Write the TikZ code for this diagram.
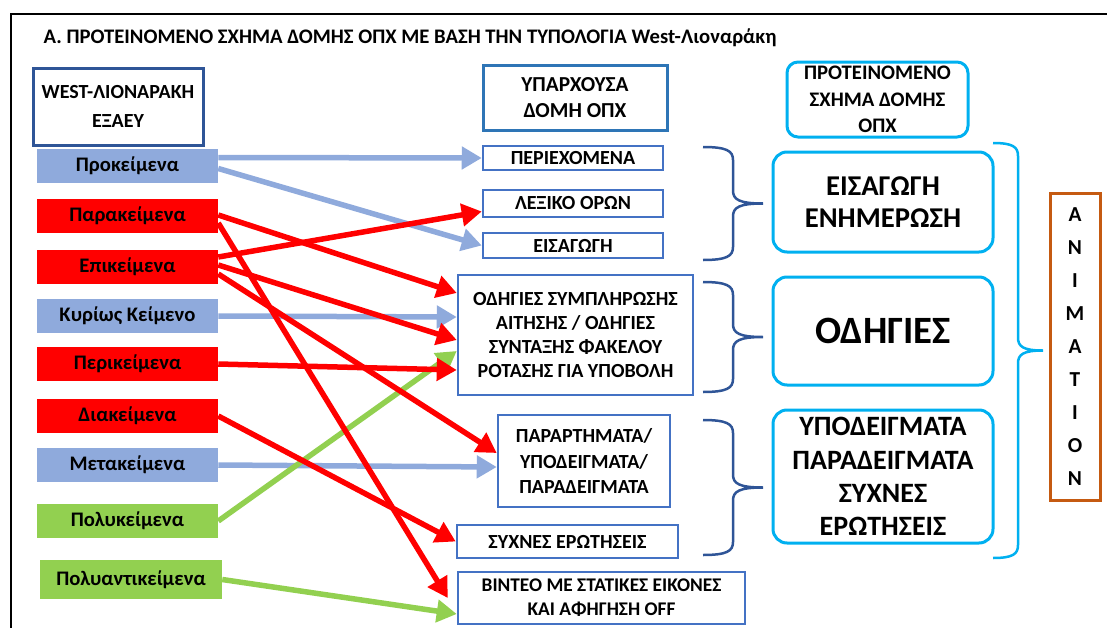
\documentclass[tikz,border=0pt]{standalone}
\usepackage{fontspec}
\setmainfont{Carlito}
\usepackage{tikz}
\usetikzlibrary{arrows.meta,positioning,calc}
\definecolor{OPDark}{HTML}{2F5597}
\definecolor{OPMid}{HTML}{4472C4}
\definecolor{OPHead}{HTML}{2E75B6}
\definecolor{OPCyan}{HTML}{00B0F0}
\definecolor{OPOrange}{HTML}{C55A11}
\definecolor{OPLight}{HTML}{8FAADC}
\definecolor{OPRed}{HTML}{FF0000}
\definecolor{OPGreen}{HTML}{92D050}
\newlength\pxu
\setlength\pxu{0.75pt}
% curly brace opening to the left: x, top, bottom, half width, colour
\newcommand{\opxbrace}[5]{%
  \draw[line width=2.5\pxu, draw=#5]
    (#1,#2) .. controls ({#1+0.8*#4},#2) and ({#1+#4},{#2+4}) .. ({#1+#4},{#2+13})
    -- ({#1+#4},{(#2+#3)/2-13}) .. controls ({#1+#4},{(#2+#3)/2-4}) and ({#1+1.2*#4},{(#2+#3)/2}) .. ({#1+2*#4},{(#2+#3)/2})
    .. controls ({#1+1.2*#4},{(#2+#3)/2}) and ({#1+#4},{(#2+#3)/2+4}) .. ({#1+#4},{(#2+#3)/2+13})
    -- ({#1+#4},{#3-13}) .. controls ({#1+#4},{#3-4}) and ({#1+0.8*#4},#3) .. (#1,#3);}

\begin{document}
\begin{tikzpicture}[
    x=0.75pt,y=-0.75pt,
    lbl/.style={minimum width=181\pxu, minimum height=34\pxu, inner sep=0pt, font=\fontsize{15.5}{18}\selectfont\bfseries},
    kblue/.style={lbl, fill=OPLight},
    kred/.style={lbl, fill=OPRed},
    kgreen/.style={lbl, fill=OPGreen},
    part/.style={draw=OPMid, line width=2.5\pxu, inner sep=0pt, align=center, font=\fontsize{15}{18}\selectfont\bfseries},
    head/.style={part, line width=3\pxu},
    plan/.style={draw=OPCyan, line width=3\pxu, rounded corners=14\pxu, inner sep=0pt, align=center, minimum width=220\pxu},
    link/.style={line width=5.5\pxu, -{Triangle[length=15pt,width=16.5pt]}},
    bluearr/.style={link, draw=OPLight},
    redarr/.style={link, draw=OPRed},
    greenarr/.style={link, draw=OPGreen}
  ]
    \useasboundingbox (0,0) rectangle (1107,628);
    \draw[line width=2\pxu] (11,640) -- (11,14) -- (1115,14);

    \node[anchor=west, font=\fontsize{15.5}{18}\selectfont\bfseries] (title) at (39,38)
      {Α. ΠΡΟΤΕΙΝΟΜΕΝΟ ΣΧΗΜΑ ΔΟΜΗΣ ΟΠΧ ΜΕ ΒΑΣΗ ΤΗΝ ΤΥΠΟΛΟΓΙΑ West-Λιοναράκη};

    % left column
    \node[head, draw=OPDark, minimum width=170\pxu, minimum height=77\pxu, font=\fontsize{15}{21.5}\selectfont\bfseries] (wl) at (118,106.5) {WEST-ΛΙΟΝΑΡΑΚΗ\\ΕΞΑΕΥ};
    \foreach \n/\y/\s/\t in {prok/165.5/kblue/Προκείμενα, para/216/kred/Παρακείμενα, epik/267/kred/Επικείμενα,
        kyr/316/kblue/Κυρίως Κείμενο, peri/364/kred/Περικείμενα, dia/416/kred/Διακείμενα,
        meta/465/kblue/Μετακείμενα, polyk/521/kgreen/Πολυκείμενα}
      {\node[\s] (\n) at (127.5,\y) {\t};}
    \node[kgreen, minimum width=182\pxu, minimum height=39\pxu] (polyant) at (131,579.5) {Πολυαντικείμενα};

    % middle column
    \node[head, draw=OPHead, minimum width=184\pxu, minimum height=65\pxu, font=\fontsize{16}{20}\selectfont\bfseries] (yparx) at (575,97.5) {ΥΠΑΡΧΟΥΣΑ\\ΔΟΜΗ ΟΠΧ};
    \node[part, minimum width=180\pxu, minimum height=24\pxu] (perie) at (573,158) {ΠΕΡΙΕΧΟΜΕΝΑ};
    \node[part, minimum width=180\pxu, minimum height=27\pxu] (lex) at (573,203.5) {ΛΕΞΙΚΟ ΟΡΩΝ};
    \node[part, minimum width=180\pxu, minimum height=25\pxu] (eis) at (573,245.5) {ΕΙΣΑΓΩΓΗ};
    \node[part, minimum width=235\pxu, minimum height=120\pxu] (odg) at (575.5,335)
      {ΟΔΗΓΙΕΣ ΣΥΜΠΛΗΡΩΣΗΣ\\ΑΙΤΗΣΗΣ / ΟΔΗΓΙΕΣ\\ΣΥΝΤΑΞΗΣ ΦΑΚΕΛΟΥ\\ΡΟΤΑΣΗΣ ΓΙΑ ΥΠΟΒΟΛΗ};
    \node[part, minimum width=172\pxu, minimum height=92\pxu, font=\fontsize{15}{19}\selectfont\bfseries] (par) at (584,461)
      {ΠΑΡΑΡΤΗΜΑΤΑ/\\ΥΠΟΔΕΙΓΜΑΤΑ/\\ΠΑΡΑΔΕΙΓΜΑΤΑ};
    \node[part, minimum width=221\pxu, minimum height=33\pxu] (sy) at (567.5,541.5) {ΣΥΧΝΕΣ ΕΡΩΤΗΣΕΙΣ};
    \node[part, minimum width=287\pxu, minimum height=52\pxu, font=\fontsize{14.5}{18}\selectfont\bfseries] (vid) at (601.5,598)
      {ΒΙΝΤΕΟ ΜΕ ΣΤΑΤΙΚΕΣ ΕΙΚΟΝΕΣ\\ΚΑΙ ΑΦΗΓΗΣΗ OFF};

    % right column
    \node[plan, rounded corners=11\pxu, minimum width=181\pxu, minimum height=75\pxu, font=\fontsize{15.5}{20}\selectfont\bfseries] (prop) at (877.5,99.5)
      {ΠΡΟΤΕΙΝΟΜΕΝΟ\\ΣΧΗΜΑ ΔΟΜΗΣ\\ΟΠΧ};
    \node[plan, minimum height=100\pxu, font=\fontsize{21.5}{23.5}\selectfont\bfseries] (intro) at (883,202) {ΕΙΣΑΓΩΓΗ\\ΕΝΗΜΕΡΩΣΗ};
    \node[plan, minimum height=108\pxu, font=\fontsize{29}{32}\selectfont\bfseries] (guide) at (883,331) {ΟΔΗΓΙΕΣ};
    \node[plan, minimum height=133\pxu, font=\fontsize{21}{25}\selectfont\bfseries] (samples) at (883,476.5)
      {ΥΠΟΔΕΙΓΜΑΤΑ\\ΠΑΡΑΔΕΙΓΜΑΤΑ\\ΣΥΧΝΕΣ\\ΕΡΩΤΗΣΕΙΣ};
    \node[draw=OPOrange, line width=3\pxu, minimum width=50\pxu, minimum height=307\pxu, inner sep=0pt, align=center,
      font=\fontsize{16}{24.75}\selectfont\bfseries] (anim) at (1075,346.5) {A\\N\\I\\M\\A\\T\\I\\O\\N};

    % braces
    \opxbrace{703}{147}{260}{30}{OPDark}
    \opxbrace{703}{282}{392}{30}{OPDark}
    \opxbrace{703}{420}{555}{30}{OPDark}
    \opxbrace{993}{143}{558}{25}{OPCyan}

    % connectors
    \draw[bluearr] ($(prok.east)+(0,-8)$) -- (perie.west);
    \draw[bluearr] ($(prok.east)+(0,3)$) -- (eis.west);
    \draw[bluearr] (kyr.east) -- ($(odg.west)+(0,-18)$);
    \draw[bluearr] (meta.east) -- ($(par.west)+(0,6)$);
    \draw[greenarr] (polyk.east) -- ($(odg.west)+(0,16)$);
    \draw[greenarr] (polyant.east) -- ($(vid.west)+(0,16)$);
    \draw[redarr] ($(epik.east)+(0,-10)$) -- ($(lex.west)+(0,8)$);
    \draw[redarr] ($(para.east)+(0,-1)$) -- ($(odg.west)+(0,-42)$);
    \draw[redarr] ($(epik.east)+(0,-2)$) -- ($(odg.west)+(0,5)$);
    \draw[redarr] (peri.east) -- ($(odg.west)+(0,35)$);
    \draw[redarr] ($(epik.east)+(0,7)$) -- ($(par.west)+(0,-8)$);
    \draw[redarr] ($(para.east)+(0,7)$) -- ($(vid.west)+(-9,0)$);
    \draw[redarr] (dia.east) -- (sy.west);
  \end{tikzpicture}
\end{document}
